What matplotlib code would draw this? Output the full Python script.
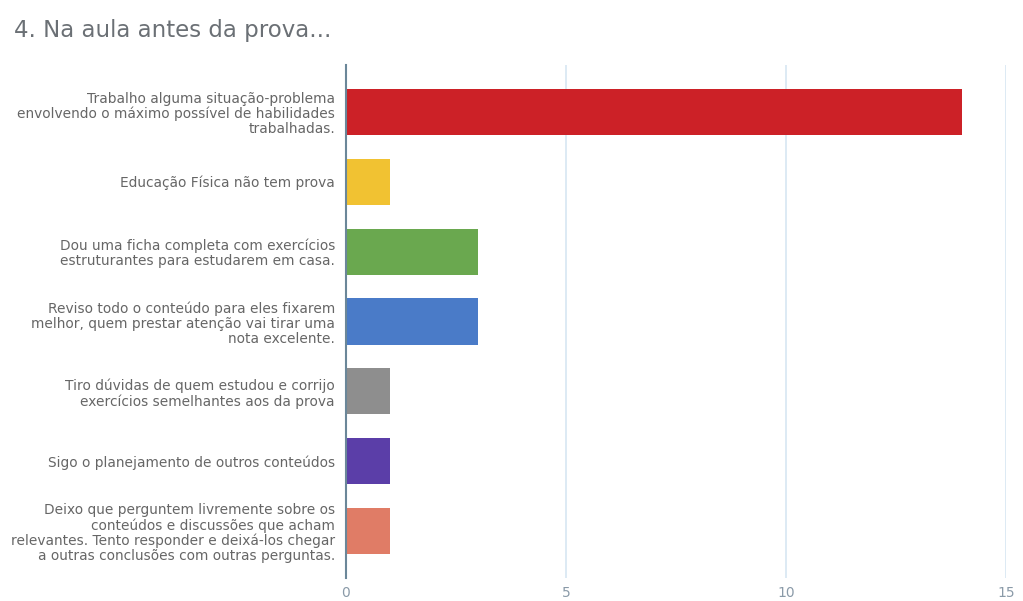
import matplotlib
matplotlib.use("Agg")
import matplotlib.pyplot as plt

plt.rcParams['font.family'] = ['DejaVu Sans']

title = "4. Na aula antes da prova..."

categories = [
    "Trabalho alguma situação-problema\nenvolvendo o máximo possível de habilidades\ntrabalhadas.",
    "Educação Física não tem prova",
    "Dou uma ficha completa com exercícios\nestruturantes para estudarem em casa.",
    "Reviso todo o conteúdo para eles fixarem\nmelhor, quem prestar atenção vai tirar uma\nnota excelente.",
    "Tiro dúvidas de quem estudou e corrijo\nexercícios semelhantes aos da prova",
    "Sigo o planejamento de outros conteúdos",
    "Deixo que perguntem livremente sobre os\nconteúdos e discussões que acham\nrelevantes. Tento responder e deixá-los chegar\na outras conclusões com outras perguntas.",
]
values = [14, 1, 3, 3, 1, 1, 1]
colors = ["#cc2127", "#f1c232", "#6aa84f", "#4a7bc8", "#8e8e8e", "#5b3ea8", "#e07c66"]
x_ticks = [0, 5, 10, 15]

fig = plt.figure(figsize=(10.23, 6.01), dpi=100)
ax = fig.add_axes([346 / 1023, 1 - 578 / 601, (1006 - 346) / 1023, (578 - 65) / 601])

ypos = list(range(len(categories)))
ax.barh(ypos, values, height=0.66, color=colors, zorder=3)

ax.set_xlim(0, 15)
ax.set_ylim(len(categories) - 0.33, -0.67)
ax.set_xticks(x_ticks)
ax.set_xticklabels([str(t) for t in x_ticks], color="#8a9aa8", fontsize=10)
ax.set_yticks(ypos)
ax.set_yticklabels(categories, color="#666666", fontsize=9.9, linespacing=1.1)
ax.tick_params(axis="y", length=0, pad=8)
ax.tick_params(axis="x", length=0, pad=6)

for t in x_ticks[1:]:
    ax.axvline(t, color="#d3e4f1", linewidth=1.1, zorder=1)

for side in ("top", "right", "bottom"):
    ax.spines[side].set_visible(False)
ax.spines["left"].set_color("#6b8799")
ax.spines["left"].set_linewidth(1.5)
ax.spines["left"].set_zorder(4)

fig.text(14 / 1023, 1 - 30 / 601, title, fontsize=16.5, color="#6b7075", va="center", ha="left")

fig.savefig("out.png", dpi=100, facecolor="white")
